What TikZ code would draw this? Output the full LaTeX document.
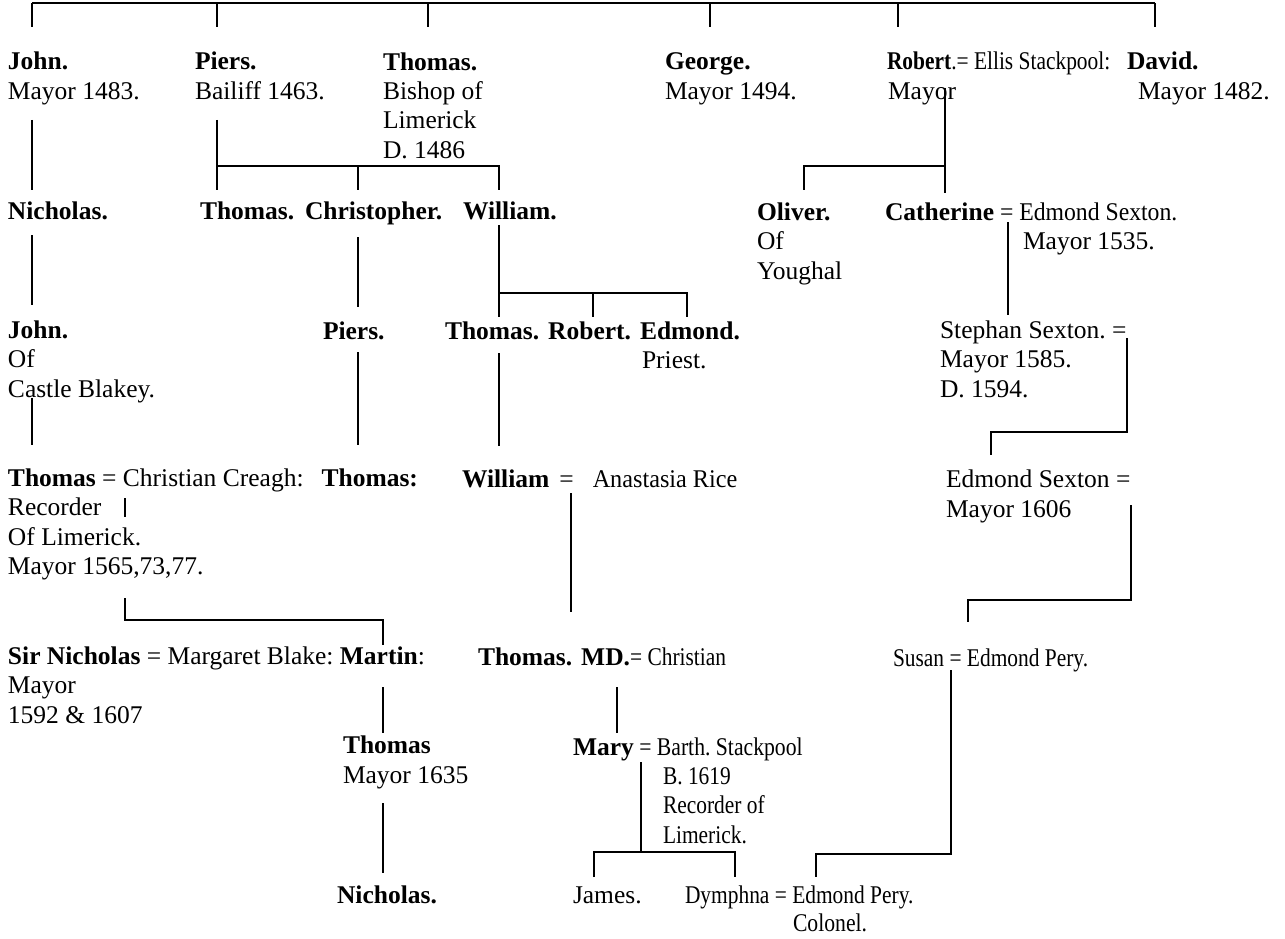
\documentclass[tikz,border=0pt]{standalone}
\usepackage{fontspec}
\setmainfont{Liberation Serif}
\newcommand{\narrowtxt}[2][0.84]{\scalebox{#1}[1]{#2}}
\frenchspacing
\begin{document}
\begin{tikzpicture}[x=1pt,y=-1pt,line width=1.6pt,
  person/.style={anchor=base west,inner sep=0pt,outer sep=0pt,align=left,
    font=\fontsize{25.5}{29.5}\selectfont}]
\useasboundingbox[fill=white] (0,0) rectangle (1285,939);
% ---------- row 1 ----------
\node[person] (john1) at (8,99.5) {\textbf{John.}\\Mayor 1483.};
\node[person] (piers1) at (195,99.5) {\textbf{Piers.}\\Bailiff 1463.};
\node[person] (thomas1) at (383,158.5) {\textbf{Thomas.}\\Bishop of\\Limerick\\D. 1486};
\node[person] (george) at (665,99.5) {\textbf{George.}\\Mayor 1494.};
\node[person] (robert) at (887,70) {\narrowtxt{\textbf{Robert}.= Ellis Stackpool:}};
\node[person] (robertm) at (888,99.5) {Mayor};
\node[person] (david) at (1127,70) {\textbf{David.}};
\node[person] (davidm) at (1138,99.5) {Mayor 1482.};
% ---------- row 2 ----------
\node[person] (nich1) at (8,219) {\textbf{Nicholas.}};
\node[person] (thomas2) at (200,219) {\textbf{Thomas.}};
\node[person] (christ) at (305,219) {\textbf{Christopher.}};
\node[person] (william1) at (463,219) {\textbf{William.}};
\node[person] (oliver) at (757,279) {\textbf{Oliver.}\\Of\\Youghal};
\node[person] (cath) at (885,220) {\textbf{Catherine}\narrowtxt[0.93]{ = Edmond Sexton.}};
\node[person] (cathm) at (1023,249.5) {Mayor 1535.};
% ---------- row 3 ----------
\node[person] (john2) at (8,397) {\textbf{John.}\\Of\\Castle Blakey.};
\node[person] (piers2) at (323,339) {\textbf{Piers.}};
\node[person] (tre) at (445,339) {\textbf{Thomas.\hspace{9pt}Robert.\hspace{9pt}Edmond.}};
\node[person] (priest) at (642,368) {Priest.};
\node[person] (stephan) at (940,397) {Stephan Sexton. =\\Mayor 1585.\\D. 1594.};
% ---------- row 4 ----------
\node[person] (thomas3) at (8,574.5) {\textbf{Thomas} = Christian Creagh:\hspace{18pt}\textbf{Thomas:}\\Recorder\\Of Limerick.\\Mayor 1565,73,77.};
\node[person] (william2) at (462,487) {\textbf{William}\hspace{10pt}=\hspace{19pt}\narrowtxt[0.95]{Anastasia Rice}};
\node[person] (edmond2) at (946,517) {Edmond Sexton =\\Mayor 1606};
% ---------- row 5 ----------
\node[person] (sirnich) at (8,723) {\textbf{Sir Nicholas} = Margaret Blake: \textbf{Martin}:\\Mayor\\1592 \& 1607};
\node[person] (thomasmd) at (478,665) {\textbf{Thomas.\hspace{9pt}MD.}\narrowtxt{= Christian}};
\node[person] (susan) at (893,666) {\narrowtxt{Susan = Edmond Pery.}};
% ---------- row 6 ----------
\node[person] (thomas4) at (343,783) {\textbf{Thomas}\\Mayor 1635};
\node[person] (mary) at (573,755) {\textbf{Mary}\narrowtxt[0.85]{ = Barth. Stackpool}};
\node[person] (barth1) at (663,784) {\narrowtxt{B. 1619}};
\node[person] (barth2) at (663,813.5) {\narrowtxt{Recorder of}};
\node[person] (barth3) at (663,843) {\narrowtxt{Limerick.}};
% ---------- row 7 ----------
\node[person] (nich2) at (337,903) {\textbf{Nicholas.}};
\node[person] (james) at (573,903) {James.};
\node[person] (dymphna) at (685,903) {\narrowtxt{Dymphna = Edmond Pery.}};
\node[person] (colonel) at (793,931) {\narrowtxt[0.85]{Colonel.}};
% ---------- connector points ----------
\coordinate (topL) at (32,3);
\coordinate (topR) at (1155,3);
\foreach \n/\x in {a/32,b/217,c/428,d/710,e/898,f/1155}
  \coordinate (tk\n) at (\x,27);
\coordinate (j1a) at (32,120);  \coordinate (j1b) at (32,190);
\coordinate (n1a) at (32,235);  \coordinate (n1b) at (32,305);
\coordinate (j2a) at (32,398);  \coordinate (j2b) at (32,445);
\coordinate (p1a) at (217,120); \coordinate (p1j) at (217,166);
\coordinate (p1b) at (217,190); \coordinate (c1) at (358,190);
\coordinate (w1) at (499,190);
\coordinate (ch1) at (358,237); \coordinate (ch2) at (358,307);
\coordinate (pi1) at (358,352); \coordinate (pi2) at (358,445);
\coordinate (wa) at (499,225);  \coordinate (wj) at (499,293);
\coordinate (wb) at (499,317);  \coordinate (rbt) at (593,317);
\coordinate (ebt) at (687,317);
\coordinate (tt1) at (499,353); \coordinate (tt2) at (499,446);
\coordinate (wr1) at (571,493); \coordinate (wr2) at (571,612);
\coordinate (ra) at (945,88);   \coordinate (rj) at (945,166);
\coordinate (rb) at (945,193);  \coordinate (ol) at (804,190);
\coordinate (ca1) at (1008,222); \coordinate (ca2) at (1008,315);
\coordinate (st1) at (1127,338); \coordinate (st2) at (1127,432);
\coordinate (es) at (991,455);
\coordinate (ed1) at (1131,505); \coordinate (ed2) at (1131,600);
\coordinate (su) at (968,622);
\coordinate (sn1) at (951,670); \coordinate (sn2) at (951,854);
\coordinate (dy) at (816,877);
\coordinate (rec1) at (125,498); \coordinate (rec2) at (125,517);
\coordinate (br1) at (125,598); \coordinate (br2) at (125,620);
\coordinate (mt) at (383,645);
\coordinate (ma1) at (383,687); \coordinate (ma2) at (383,733);
\coordinate (th1) at (383,803); \coordinate (th2) at (383,873);
\coordinate (md1) at (617,687); \coordinate (md2) at (617,733);
\coordinate (my1) at (641,762); \coordinate (my2) at (641,852);
\coordinate (ja) at (594,877);  \coordinate (dm) at (735,877);
% ---------- connectors ----------
\draw (topL) -- (topR);
\foreach \n in {a,b,c,d,e,f} \draw (tk\n |- topL) -- (tk\n);
\draw (j1a) -- (j1b);
\draw (n1a) -- (n1b);
\draw (j2a) -- (j2b);
\draw (p1a) -- (p1b);
\draw (p1j) -- (w1 |- p1j) -- (w1);
\draw (c1 |- p1j) -- (c1);
\draw (ch1) -- (ch2);
\draw (pi1) -- (pi2);
\draw (wa) -- (wb);
\draw (wj) -- (ebt |- wj) -- (ebt);
\draw (rbt |- wj) -- (rbt);
\draw (tt1) -- (tt2);
\draw (wr1) -- (wr2);
\draw (ra) -- (rb);
\draw (rj) -- (ol |- rj) -- (ol);
\draw (ca1) -- (ca2);
\draw (st1) -- (st2) -- (es |- st2) -- (es);
\draw (ed1) -- (ed2) -- (su |- ed2) -- (su);
\draw (sn1) -- (sn2) -- (dy |- sn2) -- (dy);
\draw (rec1) -- (rec2);
\draw (br1) -- (br2) -- (mt |- br2) -- (mt);
\draw (ma1) -- (ma2);
\draw (th1) -- (th2);
\draw (md1) -- (md2);
\draw (my1) -- (my2);
\draw (ja) -- (ja |- my2) -- (dm |- my2) -- (dm);
\end{tikzpicture}
\end{document}
